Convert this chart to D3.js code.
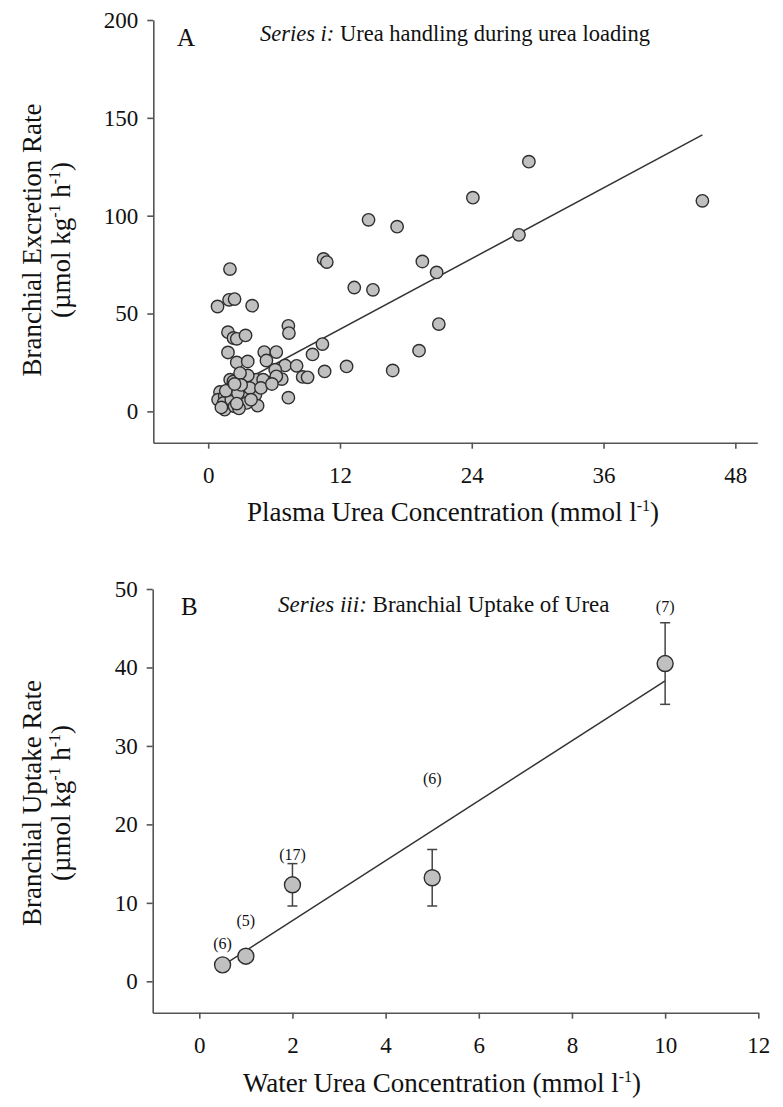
<!DOCTYPE html>
<html>
<head>
<meta charset="utf-8">
<script src="https://cdn.jsdelivr.net/npm/d3@7"></script>
<style>
  body { margin: 0; background: #fff; }
  text { font-family: "Liberation Serif", "Times New Roman", serif; fill: #111; }
</style>
</head>
<body>
<div id="chart"></div>
<script>
// panel A: plasma urea (mmol/l) vs branchial excretion (umol/kg/h)
var plasmaUrea = [14.6, 17.2, 1.98, 10.5, 10.8, 13.3, 15.0, 0.85, 1.9, 2.4, 4.0, 1.8, 2.3, 2.6, 3.4,
  7.3, 7.35, 10.4, 9.5, 1.8, 5.1, 6.2, 5.3, 2.6, 3.6, 7.0, 8.05, 12.6, 16.8, 10.6, 6.1, 8.6, 9.05,
  6.7, 4.4, 3.6, 5.4, 2.0, 2.3, 2.2, 2.9, 1.07, 0.9, 1.5, 1.4, 1.5, 2.1, 2.4, 3.3, 4.3, 4.5, 3.5,
  7.3, 2.0, 2.7, 3.8, 5.0, 6.2, 29.2, 24.1, 45.0, 19.5, 20.8, 28.3, 21.0, 19.2, 1.2, 2.8, 3.0,
  4.8, 5.8, 1.6, 2.6, 3.9, 2.4];
var excretionRate = [97.9, 94.4, 72.7, 77.9, 76.3, 63.3, 62.1, 53.6, 57, 57.4, 54, 40.5, 37.5, 37.1, 38.8,
  43.7, 40, 34.4, 29.1, 30.1, 30.3, 30.3, 26, 25, 25.5, 23.5, 23.3, 23, 20.9, 20.4, 21.3, 17.6, 17.4,
  16.5, 16.2, 18.4, 14.8, 16.2, 15.3, 12.8, 19.6, 9.9, 6, 7.7, 4.3, 0.9, 6, 2.6, 6.8, 8.5, 2.9, 4.3,
  7.0, 11.1, 9.4, 11.9, 16.2, 17.9, 127.6, 109.2, 107.6, 76.6, 71, 90.2, 44.6, 31, 2.0, 1.5, 13.5,
  12.0, 14.0, 10.5, 4.0, 6.0, 14.0];
// regression line ends (x) and fitted values
var fitAx = [0.85, 45];
var fitAy = [8.4, 141.3];
var ticksAx = [0, 12, 24, 36, 48];
var ticksAy = [0, 50, 100, 150, 200];

// panel B: water urea vs uptake, mean +/- sem, n
var waterUrea = [0.5, 1, 2, 5, 10];
var uptakeRate = [2.1, 3.2, 12.3, 13.2, 40.5];
var uptakeSem = [0, 0, 2.7, 3.6, 5.2];
var nLabels = ["(6)", "(5)", "(17)", "(6)", "(7)"];
var nLabelY = [4.7, 7.7, 16.1, 25.8, 47.7];
var fitBx = [0.5, 10];
var fitBy = [2.0, 38.3];
var ticksBx = [0, 2, 4, 6, 8, 10, 12];
var ticksBy = [0, 10, 20, 30, 40, 50];

var width = 783, height = 1107;
var font = "'Liberation Serif', 'Times New Roman', serif";

var svg = d3.select("#chart").append("svg")
  .attr("width", width)
  .attr("height", height);

function drawAxes(g, x, y, xt, yt) {
  var ax = g.append("g")
    .attr("transform", "translate(0," + y.range()[0] + ")")
    .call(d3.axisBottom(x).tickValues(xt).tickSize(6).tickSizeOuter(0).tickPadding(18));
  var ay = g.append("g")
    .attr("transform", "translate(" + x.range()[0] + ",0)")
    .call(d3.axisLeft(y).tickValues(yt).tickSize(6).tickSizeOuter(0).tickPadding(9));
  [ax, ay].forEach(function (a) {
    a.select(".domain").attr("stroke", "#555").attr("stroke-width", 1.6);
    a.selectAll(".tick line").attr("stroke", "#555").attr("stroke-width", 1.6);
    a.selectAll(".tick text")
      .style("font-family", font)
      .style("font-size", "23px")
      .attr("fill", "#111");
  });
}

// superscript helper
function sup(t, s) {
  t.append("tspan").text(s).attr("font-size", "16px").attr("dy", "-10");
}

// two-line rotated y title
function yTitle(g, cy, line1) {
  var t = g.append("g").attr("transform", "translate(0," + cy + ") rotate(-90)");
  t.append("text").attr("x", 0).attr("y", 41).attr("text-anchor", "middle")
    .style("font-size", "27px").text(line1);
  var t2 = t.append("text").attr("x", 0).attr("y", 70).attr("text-anchor", "middle")
    .style("font-size", "27px");
  t2.append("tspan").text("(\u00b5mol kg");
  sup(t2, "-1");
  t2.append("tspan").attr("dy", "10").text(" h");
  sup(t2, "-1");
  t2.append("tspan").attr("dy", "10").text(")");
}

function xTitle(g, cx, y, label) {
  var t = g.append("text").attr("x", cx).attr("y", y)
    .attr("text-anchor", "middle").style("font-size", "27px");
  t.append("tspan").text(label + " (mmol l");
  sup(t, "-1");
  t.append("tspan").attr("dy", "10").text(")");
}

// ---------- panel A ----------
var xA = d3.scaleLinear().domain([-5, 50]).range([153.3, 757.3]);
var yA = d3.scaleLinear().domain([-16, 200]).range([442.7, 20]);
var gA = svg.append("g");
drawAxes(gA, xA, yA, ticksAx, ticksAy);

gA.append("line")
  .attr("x1", xA(fitAx[0])).attr("y1", yA(fitAy[0]))
  .attr("x2", xA(fitAx[1])).attr("y2", yA(fitAy[1]))
  .attr("stroke", "#333").attr("stroke-width", 1.5);

gA.selectAll("circle.pt")
  .data(plasmaUrea)
  .enter().append("circle")
  .attr("class", "pt")
  .attr("cx", function (d) { return xA(d); })
  .attr("cy", function (d, i) { return yA(excretionRate[i]); })
  .attr("r", 6.2)
  .attr("fill", "#c0c0c0")
  .attr("stroke", "#2e2e2e")
  .attr("stroke-width", 1.4);

gA.append("text").attr("x", 177).attr("y", 46).style("font-size", "25px").text("A");
var tA = gA.append("text").attr("x", 260).attr("y", 41).style("font-size", "22.5px");
tA.append("tspan").attr("font-style", "italic").text("Series i:");
tA.append("tspan").text(" Urea handling during urea loading");

xTitle(gA, 453, 521, "Plasma Urea Concentration");
yTitle(gA, 240, "Branchial Excretion Rate");

// ---------- panel B ----------
var xB = d3.scaleLinear().domain([-1, 12]).range([152.7, 758.3]);
var yB = d3.scaleLinear().domain([-4, 50]).range([1012.7, 589]);
var gB = svg.append("g");
drawAxes(gB, xB, yB, ticksBx, ticksBy);

gB.append("line")
  .attr("x1", xB(fitBx[0])).attr("y1", yB(fitBy[0]))
  .attr("x2", xB(fitBx[1])).attr("y2", yB(fitBy[1]))
  .attr("stroke", "#333").attr("stroke-width", 1.5);

// error bars (only where sem > 0)
var errIdx = d3.range(waterUrea.length).filter(function (i) { return uptakeSem[i] > 0; });
var eb = gB.selectAll("g.err")
  .data(errIdx)
  .enter().append("g")
  .attr("class", "err");
eb.append("line")
  .attr("x1", function (i) { return xB(waterUrea[i]); })
  .attr("x2", function (i) { return xB(waterUrea[i]); })
  .attr("y1", function (i) { return yB(uptakeRate[i] - uptakeSem[i]); })
  .attr("y2", function (i) { return yB(uptakeRate[i] + uptakeSem[i]); })
  .attr("stroke", "#444").attr("stroke-width", 1.5);
[-1, 1].forEach(function (s) {
  eb.append("line")
    .attr("x1", function (i) { return xB(waterUrea[i]) - 5; })
    .attr("x2", function (i) { return xB(waterUrea[i]) + 5; })
    .attr("y1", function (i) { return yB(uptakeRate[i] + s * uptakeSem[i]); })
    .attr("y2", function (i) { return yB(uptakeRate[i] + s * uptakeSem[i]); })
    .attr("stroke", "#444").attr("stroke-width", 1.5);
});

gB.selectAll("circle.pt")
  .data(waterUrea)
  .enter().append("circle")
  .attr("class", "pt")
  .attr("cx", function (d) { return xB(d); })
  .attr("cy", function (d, i) { return yB(uptakeRate[i]); })
  .attr("r", 8)
  .attr("fill", "#c0c0c0")
  .attr("stroke", "#2e2e2e")
  .attr("stroke-width", 1.4);

gB.selectAll("text.n")
  .data(nLabels)
  .enter().append("text")
  .attr("class", "n")
  .attr("x", function (d, i) { return xB(waterUrea[i]); })
  .attr("y", function (d, i) { return yB(nLabelY[i]) + 5; })
  .attr("text-anchor", "middle")
  .style("font-size", "16px")
  .text(function (d) { return d; });

gB.append("text").attr("x", 181).attr("y", 615).style("font-size", "25px").text("B");
var tB = gB.append("text").attr("x", 278).attr("y", 612).style("font-size", "23px");
tB.append("tspan").attr("font-style", "italic").text("Series iii:");
tB.append("tspan").text(" Branchial Uptake of Urea");

xTitle(gB, 442, 1092, "Water Urea Concentration");
yTitle(gB, 803, "Branchial Uptake Rate");
</script>
</body>
</html>
